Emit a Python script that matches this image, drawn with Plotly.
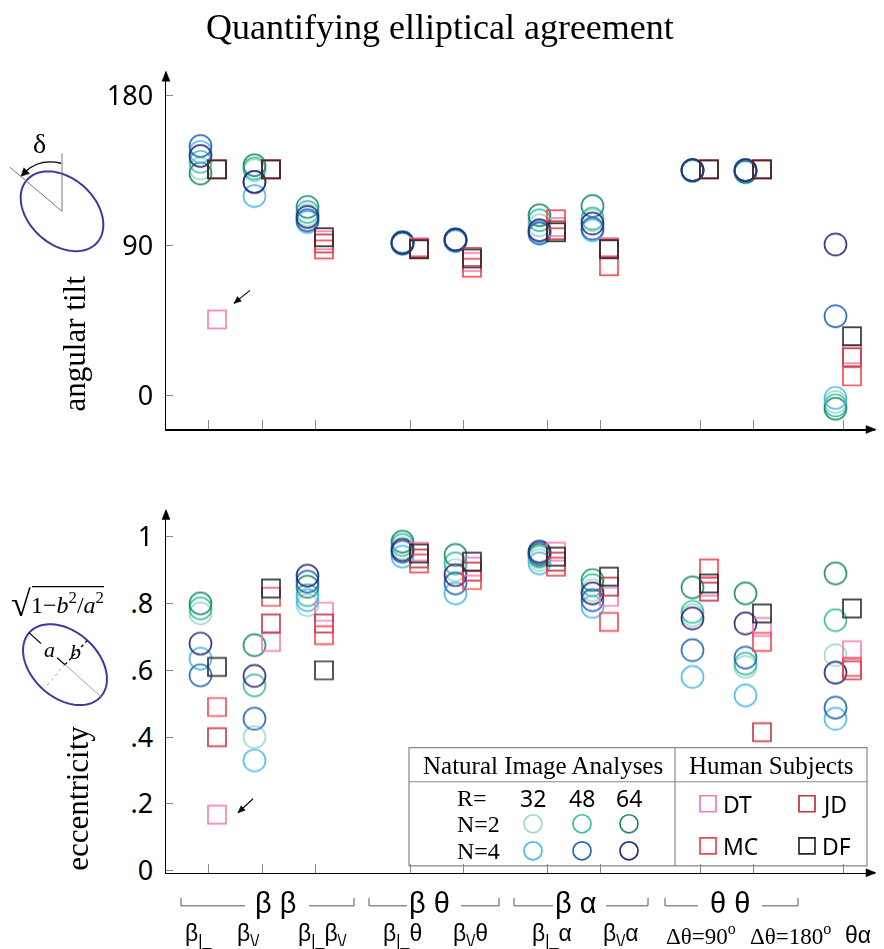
import numpy as np
import plotly.graph_objects as go

# page: body keeps default 8px margin; the photographed page is vertically
# squeezed (965 -> 949), so target-pixel y values are stretched by SY.
OX, OY = 8, 8
FW, FH = 868, 949
SY = 965 / 949

# ---------------- data ----------------
categories = ["β<sub>|_</sub>", "β<sub>\\/</sub>", "β<sub>|_</sub>β<sub>\\/</sub>", "β<sub>|_</sub>θ",
              "β<sub>\\/</sub>θ", "β<sub>|_</sub>α", "β<sub>\\/</sub>α", "Δθ=90<sup>o</sup>",
              "Δθ=180<sup>o</sup>", "θα"]
groups = ["β β", "β θ", "β α", "θ θ"]

series_names = ["R=32 N=2", "R=48 N=2", "R=64 N=2", "R=32 N=4", "R=48 N=4", "R=64 N=4"]
subjects = ["DT", "JD", "MC", "DF"]

# angular tilt (degrees)
tilt_R32_N2 = [136, 135, 108, 92, 93.5, 102, 105, 135, 135, -4]
tilt_R48_N2 = [140, 136, 110, 92, 93.5, 105, 106, 135, 134, -6]
tilt_R64_N2 = [133, 138, 113, 91.5, 93, 108, 113.5, 135, 134, -8]
tilt_R32_N4 = [146, 119.5, 104, 91, 92.5, 98, 99, 135, 135, -1.5]
tilt_R48_N4 = [149.5, 128, 105, 91, 93, 97, 100, 135, 135, 47.5]
tilt_R64_N4 = [143.5, 128, 107, 91.5, 93.5, 99, 103, 135, 135, 90.5]
tilt_DT = [45.5, 135.5, 93, 89, 80, 101, 89, 135.5, 135.5, 24.6]
tilt_JD = [135.5, 135.5, 91, 88, 83, 99, 88, 135.5, 135.5, 22.8]
tilt_MC = [135.5, 135.5, 87.5, 88, 76.5, 105.6, 77.4, 135.5, 135.5, 11.4]
tilt_DF = [135.5, 135.5, 94.8, 87.6, 82, 97.8, 87.6, 135.5, 135.5, 35.4]

# eccentricity
ecc_R32_N2 = [0.77, 0.40, 0.795, 0.965, 0.90, 0.93, 0.84, 0.765, 0.61, 0.645]
ecc_R48_N2 = [0.785, 0.555, 0.825, 0.975, 0.92, 0.94, 0.855, 0.775, 0.62, 0.75]
ecc_R64_N2 = [0.80, 0.675, 0.85, 0.985, 0.945, 0.945, 0.87, 0.848, 0.83, 0.89]
ecc_R32_N4 = [0.635, 0.33, 0.81, 0.94, 0.83, 0.92, 0.79, 0.58, 0.525, 0.455]
ecc_R48_N4 = [0.585, 0.455, 0.865, 0.955, 0.86, 0.95, 0.81, 0.66, 0.638, 0.488]
ecc_R64_N4 = [0.68, 0.583, 0.883, 0.96, 0.885, 0.955, 0.83, 0.755, 0.74, 0.593]
ecc_DT = [0.168, 0.685, 0.775, 0.955, 0.91, 0.955, 0.82, 0.85, 0.73, 0.66]
ecc_JD = [0.40, 0.74, 0.74, 0.935, 0.895, 0.925, 0.85, 0.835, 0.415, 0.60]
ecc_MC = [0.49, 0.82, 0.705, 0.92, 0.87, 0.91, 0.745, 0.905, 0.685, 0.61]
ecc_DF = [0.61, 0.845, 0.60, 0.95, 0.925, 0.94, 0.88, 0.86, 0.77, 0.785]

tilt_model = [tilt_R32_N2, tilt_R48_N2, tilt_R64_N2, tilt_R32_N4, tilt_R48_N4, tilt_R64_N4]
tilt_human = [tilt_DT, tilt_JD, tilt_MC, tilt_DF]
ecc_model = [ecc_R32_N2, ecc_R48_N2, ecc_R64_N2, ecc_R32_N4, ecc_R48_N4, ecc_R64_N4]
ecc_human = [ecc_DT, ecc_JD, ecc_MC, ecc_DF]

# ---------------- layout constants ----------------
cat_pos = [42, 96, 149, 244, 297, 381, 434, 534, 587, 677]   # axis units (≈ px from y-axis)
X_END = 709
circ_off, sq_off = -7.5, 9
model_colors = ["#9fd9c4", "#3cbda4", "#1e8c6c", "#4fb8ea", "#2467b8", "#2c2a76"]
human_colors = ["#f27ab6", "#c1323e", "#f0424a", "#262626"]
SERIF = "Liberation Serif, Times New Roman, serif"
SANS = "Noto Sans, Open Sans, sans-serif"
ARIAL = "Liberation Sans, Arial, sans-serif"


def P(x, y):
    """target picture pixel -> paper coords"""
    return (x - OX) / FW, 1 - (y * SY - OY) / FH


fig = go.Figure()

for yref_ax, model, human in [("y", tilt_model, tilt_human), ("y2", ecc_model, ecc_human)]:
    xa = "x" if yref_ax == "y" else "x2"
    for name, vals, col in zip(series_names, model, model_colors):
        fig.add_trace(go.Scatter(
            x=[c + circ_off for c in cat_pos], y=vals, mode="markers", name=name,
            xaxis=xa, yaxis=yref_ax, showlegend=False, cliponaxis=False, opacity=0.92,
            hoverinfo="skip",
            marker=dict(symbol="circle-open", size=22, color=col, line=dict(width=1.7, color=col))))
    for name, vals, col in zip(subjects, human, human_colors):
        fig.add_trace(go.Scatter(
            x=[c + sq_off for c in cat_pos], y=vals, mode="markers", name=name,
            xaxis=xa, yaxis=yref_ax, showlegend=False, cliponaxis=False, opacity=0.92,
            hoverinfo="skip",
            marker=dict(symbol="square-open", size=18, color=col, line=dict(width=1.7, color=col))))

xdom = [P(166, 0)[0], P(166 + X_END, 0)[0]]
common_x = dict(range=[0, X_END], domain=xdom, showline=True, linecolor="black", linewidth=1.5,
                ticks="inside", tickvals=cat_pos, ticklen=9, tickcolor="#888", tickwidth=1,
                showticklabels=False, showgrid=False, zeroline=False, fixedrange=True)
top_rng = [-20.4, 193.8]
bot_rng = [-0.006, 1.078]
fig.update_layout(
    width=FW, height=FH, autosize=False, margin=dict(l=0, r=0, t=0, b=0),
    paper_bgcolor="white", plot_bgcolor="white",
    xaxis=dict(anchor="y", **common_x),
    xaxis2=dict(anchor="y2", **common_x),
    yaxis=dict(domain=[P(0, 429)[1], P(0, 72)[1]], range=top_rng, anchor="x",
               showline=True, linecolor="black", linewidth=1.5, ticks="inside", ticklen=7,
               tickcolor="#888", tickvals=[0, 90, 180], ticktext=["0", "90", "180"],
               tickfont=dict(family=SANS, size=27, color="black"), ticklabelstandoff=6,
               showgrid=False, zeroline=False, fixedrange=True),
    yaxis2=dict(domain=[P(0, 872)[1], P(0, 510)[1]], range=bot_rng, anchor="x2",
                showline=True, linecolor="black", linewidth=1.5, ticks="inside", ticklen=7,
                tickcolor="#888", tickvals=[0, 0.2, 0.4, 0.6, 0.8, 1],
                ticktext=["0", ".2", ".4", ".6", ".8", "1"],
                tickfont=dict(family=SANS, size=27, color="black"), ticklabelstandoff=6,
                showgrid=False, zeroline=False, fixedrange=True),
)

ann = []
shapes = []


def text(x, y, t, size, family=SERIF, xanchor="center", angle=0, color="black"):
    px, py = P(x, y)
    ann.append(dict(xref="paper", yref="paper", x=px, y=py, text=t, showarrow=False,
                    xanchor=xanchor, yanchor="middle", textangle=angle, borderpad=0,
                    font=dict(family=family, size=size, color=color)))


def line(x0, y0, x1, y1, color="#555", width=1, dash=None):
    a, b = P(x0, y0)
    c, d = P(x1, y1)
    shapes.append(dict(type="line", xref="paper", yref="paper", x0=a, y0=b, x1=c, y1=d,
                       line=dict(color=color, width=width, dash=dash)))


def head(xt, yt, xs, ys, L=9, w=4):
    """filled arrowhead with tip at (xt, yt), pointing away from (xs, ys)"""
    u = np.array([xt - xs, yt - ys], dtype=float)
    u /= np.hypot(*u)
    perp = np.array([-u[1], u[0]])
    tip = np.array([xt, yt], dtype=float)
    base = tip - L * u
    pts = [tip, base + w * perp, base - w * perp]
    pp = [P(*p) for p in pts]
    path = "M " + " L ".join(f"{a:.5f},{b:.5f}" for a, b in pp) + " Z"
    shapes.append(dict(type="path", xref="paper", yref="paper", path=path,
                       fillcolor="black", line=dict(color="black", width=0.5)))


def arrow(xt, yt, xs, ys, width=1.2):
    line(xs, ys, xt, yt, color="black", width=width)
    head(xt, yt, xs, ys, L=7, w=3)


def ellipse_path(cx, cy, a, b, ang_deg, n=120):
    t = np.linspace(0, 2 * np.pi, n)
    th = np.deg2rad(ang_deg)
    xs = cx + a * np.cos(t) * np.cos(th) - b * np.sin(t) * np.sin(th)
    ys = cy + a * np.cos(t) * np.sin(th) + b * np.sin(t) * np.cos(th)
    pts = [P(x, y) for x, y in zip(xs, ys)]
    return "M " + " L ".join(f"{x:.5f},{y:.5f}" for x, y in pts) + " Z"


# axis arrowheads
for ytop, ybot in [(72, 429), (510, 872)]:
    head(166, ytop - 1, 166, ytop + 20, L=10, w=4)
    head(166 + X_END + 1, ybot, 166 + X_END - 20, ybot, L=10, w=4)

# title and axis titles
text(440, 27, "Quantifying elliptical agreement", 36)
text(74, 343, "angular tilt", 31, angle=-90)
text(78, 798, "eccentricity", 31, angle=-90)

# top icon (angular tilt)
shapes.append(dict(type="path", xref="paper", yref="paper",
                   path=ellipse_path(62, 211, 47, 33, 42), line=dict(color="#3b3b9e", width=2)))
line(62, 153, 62, 211, color="#777", width=1)
line(10, 167, 62, 211, color="#777", width=1)
a0, b0 = P(61, 163)
a1, b1 = P(40, 158)
a2, b2 = P(26, 171)
shapes.append(dict(type="path", xref="paper", yref="paper",
                   path=f"M {a0},{b0} Q {a1},{b1} {a2},{b2}", line=dict(color="black", width=1.3)))
head(21, 176, 28, 169, L=8, w=4)
text(39, 143, "δ", 28)

# bottom icon (eccentricity)
shapes.append(dict(type="path", xref="paper", yref="paper",
                   path=ellipse_path(65, 664, 48, 33, 42), line=dict(color="#3b3b9e", width=2)))
line(65, 664, 101, 696, color="#aaa", width=1)
line(29, 632, 41, 643, color="black", width=1.3)
line(57, 657, 65, 664, color="black", width=1.3)
line(65, 664, 87, 640, color="black", width=1.3, dash="dot")
line(65, 664, 45, 687, color="#aaa", width=1, dash="dot")
text(49, 649, "<i>a</i>", 22)
text(75, 651, "<i>b</i>", 22)
text(21, 603, "√", 36)
line(32, 586, 104, 586, color="black", width=1.3)
text(67, 602, "1−<i>b</i><sup>2</sup>/<i>a</i><sup>2</sup>", 24)

# outlier arrows
arrow(234, 303, 250, 290, width=1.1)
arrow(238, 812, 253, 798, width=1.1)


# legend box
def rect(x0, y0, x1, y1, color, width=1.2):
    a, b = P(x0, y0)
    c, d = P(x1, y1)
    shapes.append(dict(type="rect", xref="paper", yref="paper", x0=a, y0=b, x1=c, y1=d,
                       line=dict(color=color, width=width)))


def circ(x, y, r, color, width=1.7):
    a, b = P(x - r, y - r)
    c, d = P(x + r, y + r)
    shapes.append(dict(type="circle", xref="paper", yref="paper", x0=a, y0=b, x1=c, y1=d,
                       line=dict(color=color, width=width)))


rect(409, 747, 867, 865, "#888", 1.2)
line(675, 747, 675, 865, color="#888", width=1.2)
line(409, 781, 867, 781, color="#888", width=1.2)
text(543, 765, "Natural Image Analyses", 25)
text(771, 765, "Human Subjects", 25)
text(456, 797, "R=", 24, xanchor="left")
text(456, 823, "N=2", 24, xanchor="left")
text(456, 850, "N=4", 24, xanchor="left")
leg_cx = [533, 582, 629]
for lab, cx in zip(["32", "48", "64"], leg_cx):
    text(cx, 797, lab, 23, family=SANS)
for i, col in enumerate(model_colors):
    circ(leg_cx[i % 3], 823 if i < 3 else 850, 9, col)
leg_sq = [(708, 803), (807, 803), (708, 845), (807, 845)]
for (sx, sy), col, lab in zip(leg_sq, human_colors, subjects):
    rect(sx - 8, sy - 8, sx + 8, sy + 8, col, 1.7)
    text(sx + 14, sy, lab, 23, family=SANS, xanchor="left")

# group brackets and labels
bracket_y, bracket_top = 905, 897
brackets = [((181, 245), (309, 354), 275), ((369, 407), (461, 499), 429),
            ((514, 553), (606, 648), 576), ((665, 698), (762, 798), 730)]
for (l0, l1), (r0, r1), gx in brackets:
    line(l0, bracket_y, l1, bracket_y, color="#555")
    line(l0, bracket_y, l0, bracket_top, color="#555")
    line(r0, bracket_y, r1, bracket_y, color="#555")
    line(r1, bracket_y, r1, bracket_top, color="#555")
for g, (_, _, gx) in zip(groups, brackets):
    text(gx, 902, g, 29, family=ARIAL)

label_x = [198, 248, 322, 402, 470, 552, 620, 701, 790, 858]
label_fonts = [ARIAL] * 7 + [SERIF, SERIF, ARIAL]
for lab, lx, fam in zip(categories, label_x, label_fonts):
    text(lx, 934, lab, 23, family=fam)

fig.update_layout(annotations=ann, shapes=shapes)
fig.write_html("out.html", config={"displayModeBar": False, "staticPlot": True})
